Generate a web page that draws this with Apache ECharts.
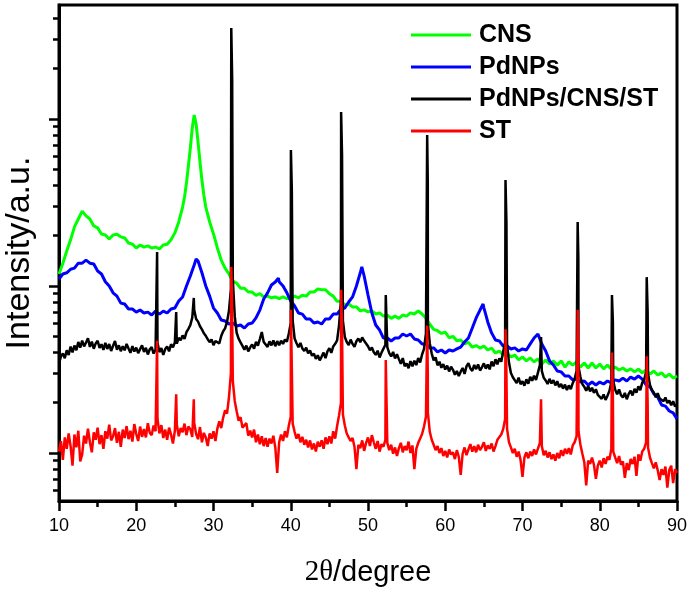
<!DOCTYPE html>
<html>
<head>
<meta charset="utf-8">
<script src="https://cdn.jsdelivr.net/npm/echarts@6/dist/echarts.min.js"></script>
<style>
html,body{margin:0;padding:0;background:#fff;}
#chart{width:688px;height:595px;}
</style>
</head>
<body>
<div id="chart"></div>
<script>
// ---- Data (2θ in degrees, intensity in a.u.) ----
const seriesNames = ['CNS', 'PdNPs', 'PdNPs/CNS/ST', 'ST'];
const xTicks = [10, 20, 30, 40, 50, 60, 70, 80, 90];
const yMajorTicks = [10, 100, 1000];
const yMinorTicks = [6, 7, 8, 9, 20, 30, 40, 50, 60, 70, 80, 90, 200, 300, 400, 500, 600, 700, 800, 900, 2000, 3000, 4000];

// CNS: sampled every 0.5° from 10° to 90°
const cnsStart = 10, cnsStep = 0.5;
const cnsValues = [
  118, 137, 162, 189, 226, 252, 281, 263, 252, 229,
  223, 205, 202, 191, 202, 204, 197, 194, 181, 178,
  169, 176, 171, 174, 169, 171, 167, 176, 178, 189,
  208, 242, 297, 414, 670, 1057, 728, 431, 297, 242,
  205, 169, 143, 128, 118, 107, 104, 97, 97, 92,
  92, 88, 90, 86, 87, 85, 86, 84, 86, 84,
  85, 87, 85, 88, 87, 92, 92, 96, 95, 95,
  90, 87, 81, 81, 77, 78, 75, 75, 71, 72,
  70, 71, 68, 69, 66, 67, 64, 66, 64, 67,
  66, 69, 68, 71, 68, 64, 59, 55, 54, 52,
  53, 49, 50, 47, 47.5, 45, 46, 43, 44, 42.5,
  43.7, 41.4, 42.5, 39.7, 40.8, 38.6, 39.7, 37.6, 38.6, 36.1,
  37.6, 35.6, 37.1, 35.1, 36.6, 34.1, 36.1, 34.1, 35.6, 33.6,
  35.6, 32.7, 35.1, 33.6, 35.1, 32.7, 34.6, 32.3, 34.6, 32.3,
  34.1, 31.9, 33.6, 31.8, 32.7, 31.4, 32.3, 31.0, 31.9, 30.6,
  31.8, 30.2, 31.4, 29.7, 31.0, 29.3, 30.2, 28.5, 29.7, 28.1,
  28.9
];
const cnsExtra = [[26.25, 341], [26.75, 523], [27.25, 883], [27.75, 933], [28.25, 553], [28.75, 351]];

// PdNPs: sampled every 0.5° from 10° to 90°
const pdStart = 10, pdStep = 0.5;
const pdValues = [
  110, 118, 120, 126, 128, 137, 137, 143, 137, 135.5,
  123, 118, 106, 100, 91, 87, 79, 78, 72.8, 72.8,
  69.8, 71.8, 68.9, 69.8, 67, 70.8, 67.9, 70.8, 68.9, 72.8,
  73.8, 81.3, 86, 100, 114.8, 133.6, 141, 120, 100, 87,
  73.8, 68.9, 62.6, 61.7, 59.2, 60, 57.6, 58.4, 56, 59.2,
  60, 64.4, 71.8, 83.6, 91, 101.4, 105.7, 106, 100, 91,
  81.3, 75.9, 68.9, 67.9, 63.5, 63.5, 60, 60.9, 59.2, 63.5,
  63.5, 67.9, 67.9, 72.8, 73.8, 80.2, 86, 100, 120, 114.8,
  88.3, 68.9, 58.4, 54.5, 48.8, 48.8, 46.9, 48.8, 48.8, 51.6,
  50.2, 51.6, 48.2, 47.5, 45, 45, 42.6, 42.6, 40.3, 41.4,
  39.7, 41.4, 40.8, 42, 43.1, 46.2, 48.8, 56, 64.4, 71.8,
  74, 60.9, 52.4, 47.5, 46.9, 43.7, 43.7, 42, 42.6, 40.8,
  42, 41.4, 45, 48.8, 51.6, 45, 40.8, 35.6, 33.65, 31,
  30.6, 28.9, 28.9, 27.4, 27.7, 26.6, 27, 25.55, 26.6, 25.55,
  26.6, 25.9, 27, 26.3, 27.4, 27, 28.1, 27, 28.5, 27.7,
  28.9, 27.7, 25.55, 24.9, 22.6, 21.6, 19.4, 19.1, 17.85, 17.4,
  16
];
const pdExtra = [[27.75, 145], [38.4, 111.6], [49.2, 130], [64.9, 78], [65.3, 66.1]];

// PdNPs/CNS/ST: sampled every 0.25° from 10° to 90°, plus the sharp reflections
const compStart = 10, compStep = 0.25;
const compValues = [
  34.5, 37.8, 39.5, 36.9,  41.2, 38.6, 43.4, 40.1,  44.0, 41.3, 46.2, 42.8,  47.1, 43.5, 45.9, 48.6,  43.2, 46.4, 42.1, 45.3,
  47.0, 42.6, 44.8, 41.5,  45.7, 42.0, 44.9, 40.8,  43.9, 46.8, 41.6, 44.1,  40.7, 43.6, 41.2, 45.0,  42.3, 39.8, 43.7, 40.5,
  42.8, 39.6, 41.9, 44.2,  40.3, 42.7, 38.9, 41.8,  43.1, 39.4, 41.6, 45.8,  40.2, 42.5, 38.7, 41.9,  43.4, 40.6, 44.8, 42.9,
  46.0, 45.2, 48.9, 47.3,  50.6, 48.2, 52.9, 55.4,  58.3, 64.7, 72.0, 63.5,  61.2, 57.4, 55.0, 52.1,  50.3, 48.0, 46.1, 47.9,
  44.2, 46.9, 48.1, 45.3,  50.2, 53.6, 55.8, 60.9,  71.0, 95.0, 110, 66.0,  52.5, 48.4, 46.0, 43.8,  41.5, 44.0, 40.6, 42.9,
  44.7, 42.1, 46.3, 44.0,  48.1, 53.0, 46.2, 45.0,  43.2, 46.6, 44.1, 47.2,  43.6, 46.8, 44.2, 47.1,  45.0, 47.8, 46.4, 52.0,
  60.0, 62.0, 48.5, 45.4,  43.0, 45.6, 42.3, 40.9,  42.7, 39.5, 41.1, 38.2,  39.4, 36.6, 38.5, 35.9,  37.8, 39.9, 37.0, 40.6,
  42.4, 39.8, 43.5, 45.1,  47.2, 58.0, 82.0, 62.0,  49.5, 46.2, 44.3, 47.8,  45.0, 43.2, 46.7, 48.5,  46.1, 49.2, 47.0, 45.3,
  43.6, 41.2, 42.9, 40.1,  38.7, 41.0, 37.3, 39.9,  40.8, 44.5, 43.0, 39.6,  37.9, 40.3, 36.8, 39.0,  36.5, 34.2, 37.0, 33.1,
  34.4, 32.2, 35.5, 33.0,  35.7, 33.6, 37.0, 34.8,  38.9, 42.0, 52.0, 60.0,  45.3, 39.4, 35.9, 37.4,  33.5, 35.2, 32.4, 34.1,
  31.6, 33.4, 30.8, 32.9,  31.5, 29.4, 31.0, 28.9,  30.7, 32.3, 29.8, 33.0,  34.5, 32.1, 31.0, 33.7,  31.8, 33.9, 31.2, 32.6,
  34.4, 32.0, 33.9, 31.7,  35.3, 33.1, 36.4, 34.0,  36.9, 35.2, 40.5, 46.0,  45.0, 34.8, 30.1, 28.4,  27.9, 26.2, 28.3, 25.8,
  26.9, 25.3, 27.6, 26.0,  28.6, 27.1, 29.0, 27.4,  30.3, 33.6, 31.0, 28.2,  27.2, 25.9, 27.8, 26.1,  27.3, 25.4, 26.9, 24.8,
  25.9, 24.3, 25.7, 23.8,  25.4, 24.1, 26.2, 27.8,  31.0, 33.0, 28.5, 25.9,  24.9, 23.6, 25.2, 23.4,  24.6, 22.9, 24.1, 22.3,
  22.7, 21.1, 22.4, 20.8,  22.0, 23.5, 26.5, 27.0,  23.9, 22.5, 24.0, 22.2,  21.5, 22.9, 21.0, 22.6,  23.6, 22.1, 24.2, 23.0,
  25.1, 23.8, 26.4, 27.5,  30.5, 30.0, 25.6, 23.8,  23.0, 21.6, 22.8, 21.2,  21.7, 20.4, 21.5, 19.9,  20.6, 19.3, 20.4, 19.0,
  19.6
];
const compPeaks = [
  [22.7, 160], [25.17, 69.8], [27.45, 84.8], [32.3, 3508], [32.42, 1713],
  [40.02, 652], [40.14, 376], [46.52, 1102], [46.64, 608], [52.3, 88.3],
  [57.66, 802], [57.74, 420], [67.8, 431], [67.92, 242], [72.4, 49.5],
  [77.14, 242], [77.23, 147], [81.58, 88.3], [81.7, 60.9], [86.08, 113], [86.2, 69.8]
];

// ST: sampled every 0.25° from 10° to 90°, plus the sharp reflections
const stStart = 10, stStep = 0.25;
const stValues = [
  10.2, 11.8, 9.1, 12.4,  10.6, 13.1, 11.0, 8.4,  12.9, 10.8, 13.6, 8.9,  9.8, 12.7, 11.4, 14.0,  11.6, 10.1, 13.3, 12.0,
  14.2, 11.3, 12.8, 10.6,  13.5, 12.2, 14.8, 11.9,  12.6, 14.1, 11.5, 13.4,  10.9, 13.8, 12.3, 14.5,  12.1, 13.6, 11.7, 14.9,
  13.0, 11.8, 14.4, 12.5,  13.9, 12.4, 15.1, 13.2,  12.8, 14.6, 13.5, 16.0,  13.1, 14.7, 12.3, 13.8,  12.0, 14.2, 12.9, 11.4,
  13.6, 14.8, 12.6, 14.1,  13.3, 15.0, 12.8, 14.4,  13.9, 12.5, 15.2, 13.0,  12.1, 14.3, 11.6, 13.2,  12.4, 11.0, 13.1, 12.2,
  13.5, 11.8, 14.0, 15.5,  14.1, 16.3, 18.0, 17.2,  21.5, 30.0, 27.0, 20.5,  17.8, 15.6, 16.4, 14.2,  13.9, 15.1, 12.7, 13.6,
  12.4, 13.8, 11.6, 12.9,  11.3, 12.6, 11.0, 12.3,  10.9, 12.2, 11.4, 12.7,  10.8, 7.6, 11.6, 12.9,  11.8, 13.5, 12.4, 14.6,
  16.5, 15.0, 13.4, 12.2,  13.0, 11.6, 12.5, 11.2,  12.0, 10.8, 11.9, 10.5,  11.4, 10.2, 11.7, 10.9,  11.9, 10.6, 12.4, 11.3,
  12.6, 11.4, 13.5, 12.2,  14.5, 16.8, 20.0, 17.0,  14.6, 13.1, 12.4, 11.8,  12.3, 10.9, 8.0, 11.2,  10.7, 11.9, 10.3, 11.5,
  12.4, 11.0, 12.8, 11.6,  10.6, 11.8, 10.2, 11.3,  10.9, 12.0, 11.5, 10.4,  11.2, 9.9, 10.8, 9.6,  10.7, 11.5, 10.1, 11.0,
  10.4, 11.7, 10.0, 11.1,  8.0, 10.6, 11.5, 12.2,  13.0, 14.4, 16.5, 17.5,  13.4, 12.0, 11.2, 10.4,  11.0, 10.0, 10.7, 9.6,
  10.3, 9.4, 10.5, 9.8,  10.1, 9.2, 10.4, 9.5,  7.4, 9.9, 10.8, 9.7,  10.5, 11.3, 10.2, 11.0,  10.1, 11.2, 10.4, 10.9,
  11.6, 10.3, 11.1, 10.6,  11.4, 10.2, 11.0, 12.0,  11.8, 12.9, 13.9, 16.0,  14.0, 11.6, 10.8, 10.0,  10.6, 9.5, 10.2, 9.1,
  7.2, 9.4, 10.1, 9.3,  10.2, 9.6, 10.5, 9.8,  10.0, 11.5, 11.0, 9.7,  10.3, 9.4, 10.1, 9.2,  9.8, 9.0, 10.0, 9.3,
  10.4, 9.6, 10.6, 9.9,  10.7, 9.8, 11.1, 11.6,  12.6, 13.5, 11.2, 9.9,  8.8, 6.4, 9.0, 8.6,  9.4, 8.5, 7.0, 8.4,
  9.0, 8.2, 9.3, 8.6,  9.5, 9.1, 10.6, 10.2,  9.4, 8.7, 9.6, 8.5,  8.9, 7.1, 8.7, 7.9,  9.2, 8.6, 9.5, 7.3,
  9.8, 9.0, 10.2, 10.6,  11.6, 10.8, 9.4, 8.7,  8.1, 8.8, 7.9, 6.9,  8.0, 7.4, 8.3, 6.2,  7.9, 8.4, 6.6, 8.0,
  7.6
];
const stPeaks = [
  [22.7, 47], [25.17, 22.5], [27.45, 21], [32.3, 130], [32.4, 80],
  [40.02, 72], [46.52, 95], [46.64, 55], [52.3, 36], [57.66, 58], [57.74, 30],
  [67.8, 55], [67.92, 30], [72.4, 21], [77.14, 72], [77.23, 38],
  [81.58, 40], [81.7, 22], [86.08, 38], [86.2, 20]
];

// ---- Build [x, y] tables from the arrays above ----
function buildTable(start, step, values, extra) {
  const pts = values.map((v, i) => [Math.round((start + i * step) * 100) / 100, v]);
  return pts.concat(extra).sort((a, b) => a[0] - b[0]);
}
const tables = [
  buildTable(cnsStart, cnsStep, cnsValues, cnsExtra),
  buildTable(pdStart, pdStep, pdValues, pdExtra),
  buildTable(compStart, compStep, compValues, compPeaks),
  buildTable(stStart, stStep, stValues, stPeaks)
];
const colors = ['#00ff00', '#0000ff', '#000000', '#ff0000'];
const widths = [3, 3, 2.5, 2.5];

const yMin = 5.16, yMax = 4816;
const chart = echarts.init(document.getElementById('chart'), null, { renderer: 'canvas' });
chart.setOption({
  animation: false,
  backgroundColor: '#ffffff',
  color: colors,
  grid: {
    left: 59, right: 11, top: 5, bottom: 94,
    show: true, borderColor: '#000', borderWidth: 3,
    containLabel: false, outerBoundsMode: 'none'
  },
  legend: {
    orient: 'vertical',
    left: 406, top: 17,
    icon: 'rect',
    itemWidth: 60, itemHeight: 3,
    itemGap: 6,
    data: seriesNames,
    textStyle: {
      fontFamily: 'Liberation Sans', fontWeight: 'bold', fontSize: 25,
      color: '#000', lineHeight: 26, padding: [0, 0, 0, 3]
    }
  },
  xAxis: {
    type: 'value',
    min: xTicks[0], max: xTicks[xTicks.length - 1], interval: 10,
    axisLine: { show: true, onZero: false, lineStyle: { color: '#000', width: 3 } },
    axisTick: { show: true, inside: false, length: 10, lineStyle: { color: '#000', width: 2.5 } },
    minorTick: { show: true, splitNumber: 2, length: 6, lineStyle: { color: '#000', width: 2.5 } },
    axisLabel: { fontFamily: 'Liberation Sans', fontSize: 18, color: '#000', margin: 16 },
    splitLine: { show: false },
    minorSplitLine: { show: false },
    name: '{s|2θ}/degree',
    nameLocation: 'middle',
    nameGap: 57,
    nameTextStyle: {
      fontFamily: 'Liberation Sans', fontSize: 29, color: '#000',
      rich: { s: { fontFamily: 'Liberation Serif', fontSize: 29, color: '#000' } }
    }
  },
  yAxis: [
    {
      type: 'log', logBase: 10, min: yMin, max: yMax, position: 'left',
      axisLine: { show: true, onZero: false, lineStyle: { color: '#000', width: 3 } },
      axisTick: { show: true, inside: false, length: 10, lineStyle: { color: '#000', width: 2.5 }, customValues: yMajorTicks },
      axisLabel: { show: false, customValues: yMajorTicks },
      splitLine: { show: false },
      name: 'Intensity/a.u.',
      nameLocation: 'middle',
      nameGap: 22,
      nameTextStyle: { fontFamily: 'Liberation Sans', fontSize: 34, color: '#000' }
    },
    {
      type: 'log', logBase: 10, min: yMin, max: yMax, position: 'left',
      axisLine: { show: false },
      axisTick: { show: true, inside: false, length: 6, lineStyle: { color: '#000', width: 2.5 }, customValues: yMinorTicks },
      axisLabel: { show: false, customValues: yMinorTicks },
      splitLine: { show: false }
    }
  ],
  series: seriesNames.map((name, i) => ({
    name: name,
    type: 'line',
    yAxisIndex: 0,
    data: tables[i],
    showSymbol: false,
    symbol: 'none',
    lineStyle: { color: colors[i], width: widths[i] },
    itemStyle: { color: colors[i] },
    emphasis: { disabled: true },
    silent: true
  }))
});
</script>
</body>
</html>
